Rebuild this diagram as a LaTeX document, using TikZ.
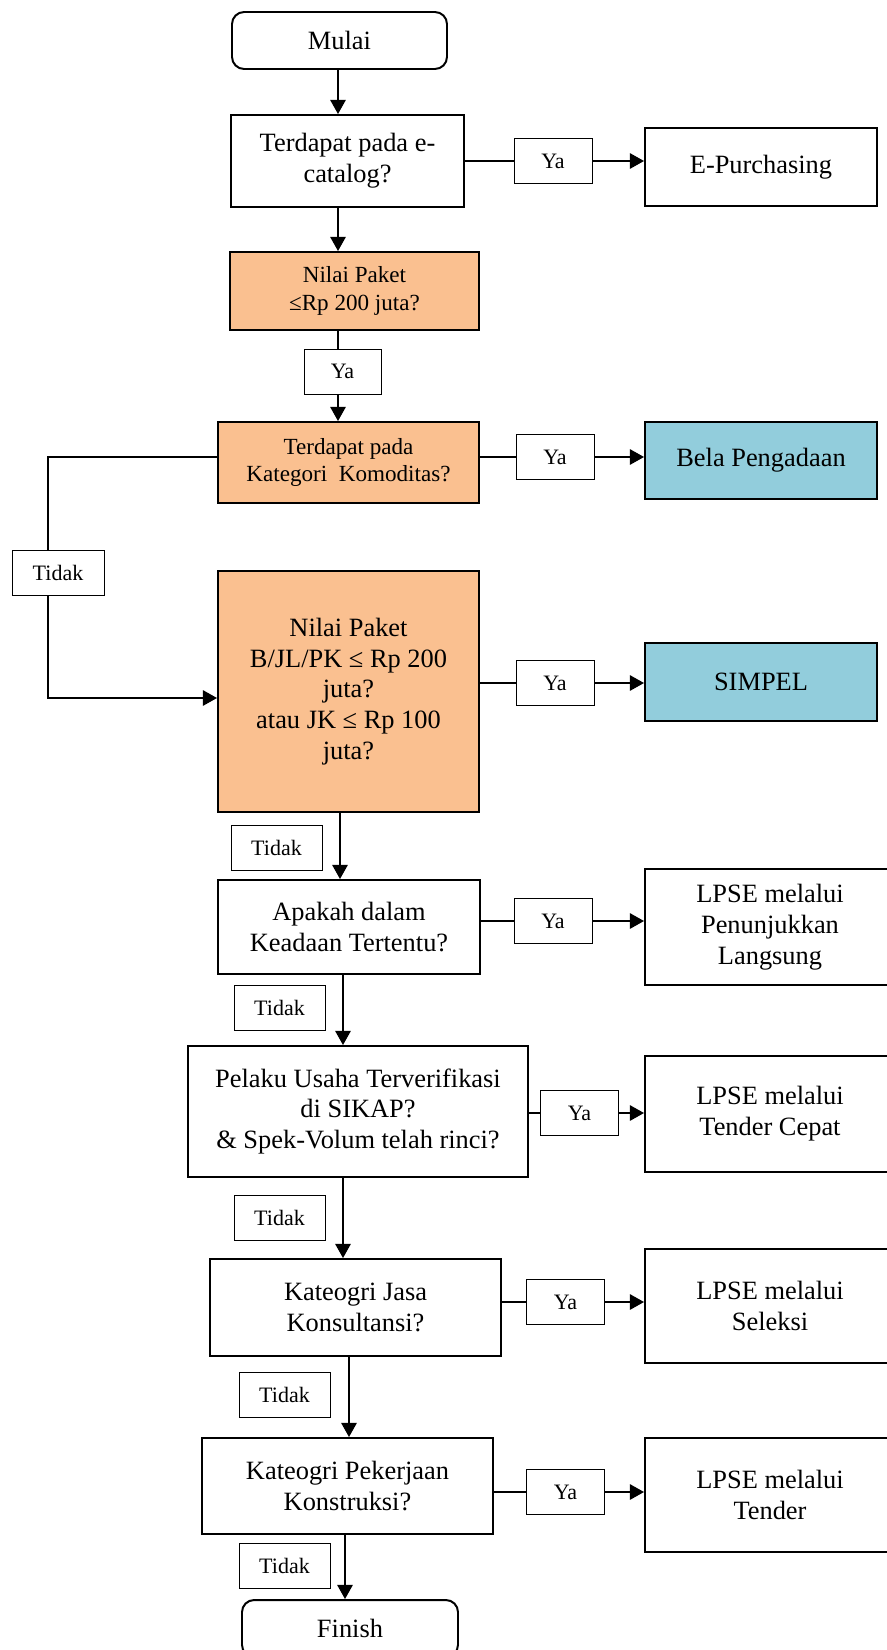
\documentclass[tikz,border=0pt]{standalone}
\usepackage{fontspec}
\setmainfont{Liberation Serif}
\usetikzlibrary{arrows.meta,backgrounds}
\definecolor{orangeF}{HTML}{FAC090}
\definecolor{blueF}{HTML}{92CDDC}
\def\u{0.4545pt}
\tikzset{
  box/.style={draw, line width=0.9pt, align=center, inner sep=0pt, font=\fontsize{12}{14}\selectfont},
  term/.style={box, rounded corners=5.5pt, minimum width=215*\u, minimum height=57*\u},
  smallbox/.style={font=\fontsize{10.5}{12.4}\selectfont},
  lbl/.style={draw, fill=white, line width=0.45pt, minimum width=78*\u, minimum height=45*\u, inner sep=0pt, font=\fontsize{10}{12}\selectfont},
  conn/.style={line width=0.7pt},
  arr/.style={conn, -{Triangle[length=6.4pt,width=7pt]}},
}
\begin{document}
\begin{tikzpicture}[x=0.4545pt, y=-0.4545pt]
\useasboundingbox (0,0) rectangle (887,1650);
\clip (0,0) rectangle (887,1650);
% main column
\node[term] (start) at (339.5,40.5) {Mulai};
\node[box, minimum width=233*\u, minimum height=92*\u] (ecat) at (347.5,161) {Terdapat pada e-\\catalog?};
\node[lbl] (ya1) at (553,161) {Ya};
\node[box, minimum width=232*\u, minimum height=78*\u] (epur) at (761,167) {E-Purchasing};
\node[box, smallbox, fill=orangeF, minimum width=249*\u, minimum height=78*\u] (nil1) at (354.5,291) {Nilai Paket\\≤Rp 200 juta?};
\node[lbl, minimum width=77*\u] (ya2) at (342.5,371.5) {Ya};
\node[box, smallbox, fill=orangeF, minimum width=261*\u, minimum height=81*\u] (kat) at (348.5,462.5) {Terdapat pada\\Kategori\ \ Komoditas?};
\node[lbl] (ya3) at (555,457) {Ya};
\node[box, fill=blueF, minimum width=232*\u, minimum height=77*\u] (bela) at (761,460.5) {Bela Pengadaan};
\node[lbl, minimum width=92*\u] (tid1) at (58,573) {Tidak};
\node[box, fill=orangeF, minimum width=261*\u, minimum height=241*\u] (bjl) at (348.5,691.5) {Nilai Paket\\B/JL/PK ≤ Rp 200\\juta?\\atau JK ≤ Rp 100\\juta?};
\node[lbl] (ya4) at (555,683) {Ya};
\node[box, fill=blueF, minimum width=232*\u, minimum height=78*\u] (simpel) at (761,682) {SIMPEL};
\node[lbl, minimum width=91*\u] (tid2) at (276.5,848) {Tidak};
\node[box, minimum width=262*\u, minimum height=94*\u] (apa) at (349,927) {Apakah dalam\\Keadaan Tertentu?};
\node[lbl] (ya5) at (553,921) {Ya};
\node[box, minimum width=250*\u, minimum height=116*\u] (lp1) at (770,927) {LPSE melalui\\Penunjukkan\\Langsung};
\node[lbl, minimum width=91*\u] (tid3) at (279.5,1008) {Tidak};
\node[box, minimum width=340*\u, minimum height=131*\u] (pel) at (358,1111.5) {Pelaku Usaha Terverifikasi\\di SIKAP?\\\& Spek-Volum telah rinci?};
\node[lbl] (ya6) at (579.5,1113) {Ya};
\node[box, minimum width=250*\u, minimum height=116*\u] (lp2) at (770,1114) {LPSE melalui\\Tender Cepat};
\node[lbl, minimum width=91*\u] (tid4) at (279.5,1218) {Tidak};
\node[box, minimum width=291*\u, minimum height=97*\u] (jasa) at (355.5,1307.5) {Kateogri Jasa\\Konsultansi?};
\node[lbl] (ya7) at (565.5,1302) {Ya};
\node[box, minimum width=250*\u, minimum height=114*\u] (lp3) at (770,1306) {LPSE melalui\\Seleksi};
\node[lbl, minimum width=91*\u] (tid5) at (284.5,1394.5) {Tidak};
\node[box, minimum width=291*\u, minimum height=96*\u] (pek) at (347.5,1486) {Kateogri Pekerjaan\\Konstruksi?};
\node[lbl] (ya8) at (565.5,1492) {Ya};
\node[box, minimum width=250*\u, minimum height=114*\u] (lp4) at (770,1495) {LPSE melalui\\Tender};
\node[lbl, minimum width=91*\u] (tid6) at (284.5,1565.5) {Tidak};
\node[term, minimum width=216*\u] (fin) at (350,1628.5) {Finish};
% connectors
\coordinate (k1) at (338,0);
\coordinate (k3) at (340,0);
\coordinate (k4) at (343,0);
\coordinate (k5) at (349,0);
\coordinate (k6) at (345,0);
\coordinate (l1) at (48,457);
\coordinate (l2) at (48,698);
\begin{pgfonlayer}{background}
\draw[arr] (k1 |- start.south) -- (k1 |- ecat.north);
\draw[arr] (k1 |- ecat.south) -- (k1 |- nil1.north);
\draw[arr] (k1 |- nil1.south) -- (k1 |- kat.north);
\draw[arr] (ecat.east |- ya1) -- (epur.west |- ya1);
\draw[arr] (kat.east |- ya3) -- (bela.west |- ya3);
\draw[arr] (kat.west |- l1) -- (l1) -- (l2) -- (bjl.west |- l2);
\draw[arr] (bjl.east |- ya4) -- (simpel.west |- ya4);
\draw[arr] (k3 |- bjl.south) -- (k3 |- apa.north);
\draw[arr] (apa.east |- ya5) -- (lp1.west |- ya5);
\draw[arr] (k4 |- apa.south) -- (k4 |- pel.north);
\draw[arr] (pel.east |- ya6) -- (lp2.west |- ya6);
\draw[arr] (k4 |- pel.south) -- (k4 |- jasa.north);
\draw[arr] (jasa.east |- ya7) -- (lp3.west |- ya7);
\draw[arr] (k5 |- jasa.south) -- (k5 |- pek.north);
\draw[arr] (pek.east |- ya8) -- (lp4.west |- ya8);
\draw[arr] (k6 |- pek.south) -- (k6 |- fin.north);
\end{pgfonlayer}
\end{tikzpicture}
\end{document}
